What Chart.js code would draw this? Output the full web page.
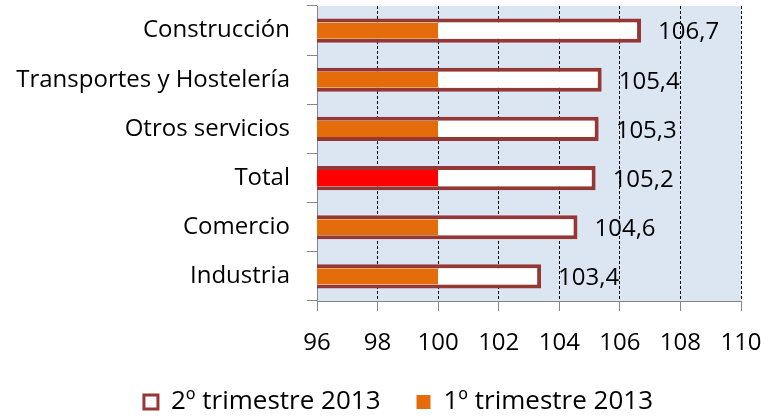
<!DOCTYPE html>
<html><head><meta charset="utf-8">
<script src="https://cdn.jsdelivr.net/npm/chart.js@4/dist/chart.umd.min.js"></script>
<style>html,body{margin:0;padding:0;background:#fff}canvas{display:block}</style>
</head><body>
<canvas id="c" width="764" height="418"></canvas>
<script>
const categories = ['Construcción', 'Transportes y Hostelería', 'Otros servicios', 'Total', 'Comercio', 'Industria'];
const q2Values = [106.7, 105.4, 105.3, 105.2, 104.6, 103.4];
const q1Values = [100, 100, 100, 100, 100, 100];
const xTicks = [96, 98, 100, 102, 104, 106, 108, 110];
const seriesNames = ['2º trimestre 2013', '1º trimestre 2013'];
const highlightCategory = 'Total';

const FONT = "'Open Sans', sans-serif";
const DARK_RED = '#953735', ORANGE = '#E46C0A', RED = '#FF0000', AXIS = '#868686';

const plotBg = {
  id: 'plotBg',
  beforeDraw(chart) {
    const {ctx, chartArea: a} = chart;
    ctx.save();
    ctx.fillStyle = '#DCE6F2';
    ctx.fillRect(a.left, a.top, a.right - a.left, a.bottom - a.top);
    ctx.restore();
  }
};
const legendShift = {
  id: 'legendShift',
  afterLayout(chart) {
    const lg = chart.legend;
    if (lg) { lg.left += 28; lg.right += 28; lg.top += 2; lg.bottom += 2; }
  }
};
const valueLabels = {
  id: 'valueLabels',
  afterDatasetsDraw(chart) {
    const ctx = chart.ctx;
    const meta = chart.getDatasetMeta(0);
    ctx.save();
    ctx.font = '24px ' + FONT;
    ctx.fillStyle = '#000';
    ctx.textAlign = 'left';
    ctx.textBaseline = 'middle';
    meta.data.forEach((bar, i) => {
      const v = chart.data.datasets[0].data[i];
      ctx.fillText(v.toFixed(1).replace('.', ','), bar.x + 17, bar.y + 2);
    });
    ctx.restore();
  }
};

new Chart(document.getElementById('c'), {
  type: 'bar',
  data: {
    labels: categories,
    datasets: [
      {
        label: seriesNames[0],
        data: q2Values,
        backgroundColor: '#FFFFFF',
        borderColor: DARK_RED,
        borderWidth: 4,
        borderSkipped: false,
        barPercentage: 0.49,
        categoryPercentage: 1,
        grouped: false,
        order: 2
      },
      {
        label: seriesNames[1],
        data: q1Values,
        backgroundColor: (c) => (c.type === 'data' && categories[c.dataIndex] === highlightCategory) ? RED : ORANGE,
        borderColor: DARK_RED,
        borderWidth: (c) => c.type === 'data' ? {left: 3, top: 0, right: 0, bottom: 0} : 0,
        borderSkipped: false,
        barPercentage: 0.33,
        categoryPercentage: 1,
        grouped: false,
        order: 1
      }
    ]
  },
  options: {
    indexAxis: 'y',
    responsive: false,
    devicePixelRatio: 1,
    animation: false,
    layout: {padding: {left: 0, right: 23, top: 6, bottom: 0}},
    scales: {
      x: {
        min: 96, max: 110,
        afterBuildTicks: (s) => { s.ticks = xTicks.map(v => ({value: v})); },
        afterFit: (s) => { s.height = 50; s.paddingLeft = 0; s.paddingRight = 0; },
        grid: {
          color: (c) => (c.tick && c.tick.value === xTicks[0]) ? 'rgba(0,0,0,0)' : '#000',
          tickColor: AXIS,
          tickBorderDash: [],
          tickLength: 10,
          lineWidth: 1
        },
        border: {color: AXIS, width: 1, dash: [3, 2]},
        ticks: {font: {family: FONT, size: 24}, color: '#000', padding: 18}
      },
      y: {
        afterFit: (s) => { s.width = 317; s.paddingTop = 0; s.paddingBottom = 0; },
        grid: {display: true, drawOnChartArea: false, offset: true, tickLength: 10, color: AXIS},
        border: {color: AXIS, width: 1},
        ticks: {font: {family: FONT, size: 24}, color: '#000', padding: 17}
      }
    },
    plugins: {
      tooltip: {enabled: false},
      legend: {
        position: 'bottom',
        maxHeight: 67,
        labels: {
          font: {family: FONT, size: 26},
          color: '#000',
          boxWidth: 14,
          boxHeight: 14,
          padding: 36,
          sort: (a, b) => a.datasetIndex - b.datasetIndex,
          generateLabels: (chart) => {
            const items = Chart.defaults.plugins.legend.labels.generateLabels(chart);
            items.forEach(it => { it.lineWidth = it.datasetIndex === 0 ? 3 : 0; });
            return items;
          }
        }
      }
    }
  },
  plugins: [plotBg, legendShift, valueLabels]
});
</script>
</body></html>
